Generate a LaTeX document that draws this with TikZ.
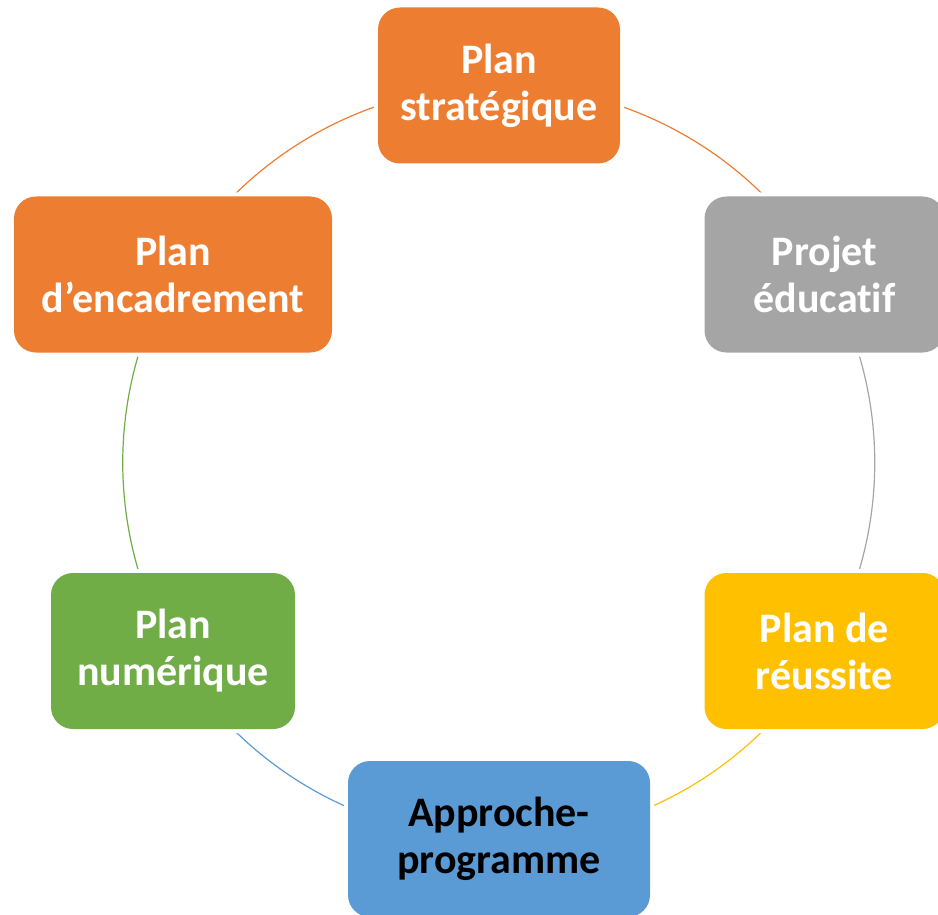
\documentclass[tikz,border=0pt]{standalone}
\usepackage{fontspec}
\setmainfont{Carlito}[Ligatures=NoCommon]
\definecolor{cOrange}{HTML}{ED7D31}
\definecolor{cGray}{HTML}{A5A5A5}
\definecolor{cYellow}{HTML}{FFC000}
\definecolor{cBlue}{HTML}{5B9BD5}
\definecolor{cGreen}{HTML}{70AD47}
\pgfdeclarelayer{background}
\pgfsetlayers{background,main}
\begin{document}
\begin{tikzpicture}[x=1pt,y=-1pt,
  box/.style={rounded corners=22pt, inner sep=0pt, minimum height=156pt,
    align=center, font=\bfseries\fontsize{42}{47}\selectfont, text=white,
    preaction={draw=white, line width=8pt}},
  link/.style={line width=1.2pt, bend left=30, looseness=0.9127}]
\useasboundingbox (0,0) rectangle (938,915);
\clip (0,0) rectangle (938,915);
\node[box, fill=cOrange, minimum width=242pt] (strat) at (499,85.5) {Plan\\stratégique};
\node[box, fill=cGray, minimum width=240pt] (proj) at (824.5,274.5) {Projet\\éducatif};
\node[box, fill=cYellow, minimum width=240pt] (reus) at (824.5,651) {Plan de\\réussite};
\node[box, fill=cBlue, minimum width=302pt, text=black] (appr) at (499,839) {Approche-\\programme};
\node[box, fill=cGreen, minimum width=244pt] (num) at (173,651) {Plan\\numérique};
\node[box, fill=cOrange, minimum width=318pt] (enc) at (173,274.5) {Plan\\d’encadrement};
\begin{pgfonlayer}{background}
\draw[link, cOrange] (strat.center) to (proj.center);
\draw[link, cGray] (proj.center) to (reus.center);
\draw[link, cYellow] (reus.center) to (appr.center);
\draw[link, cBlue] (appr.center) to (num.center);
\draw[link, cGreen] (num.center) to (enc.center);
\draw[link, cOrange] (enc.center) to (strat.center);
\end{pgfonlayer}
\end{tikzpicture}
\end{document}
